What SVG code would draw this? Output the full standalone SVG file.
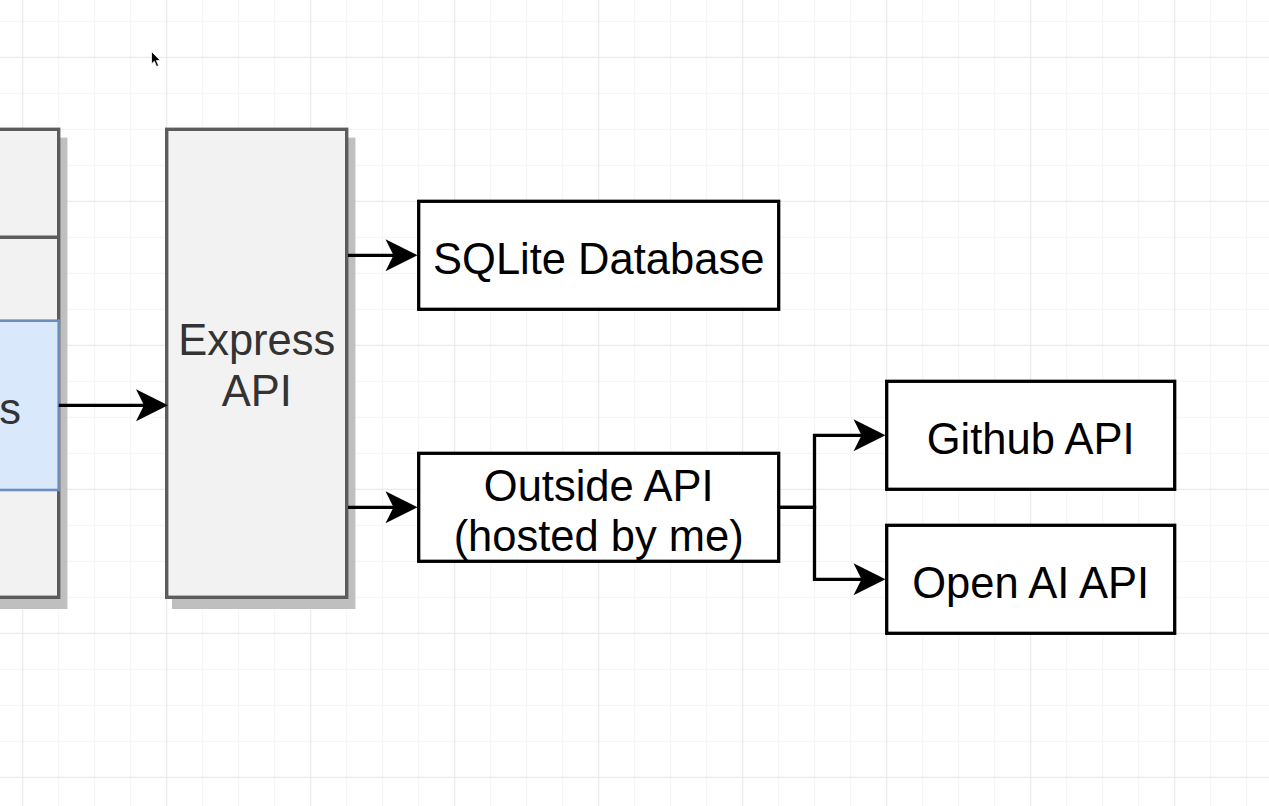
<svg xmlns="http://www.w3.org/2000/svg" width="1269" height="806" viewBox="0 0 1269 806">
<style>
.gray{fill:#f2f2f2;stroke:#5c5c5c;stroke-width:3.4}
.shadow{fill:#bfbfbf;stroke:#bfbfbf;stroke-width:3.4}
.box{fill:#ffffff;stroke:#000000;stroke-width:3.3}
.blue{fill:#dae8fc;stroke:#6c8ebf;stroke-width:2.6}
.t{font-family:"Liberation Sans",Arial,Helvetica,sans-serif;font-size:43.5px;text-anchor:middle;fill:#000000}
.tg{fill:#333333}
.edge{fill:none;stroke:#000000;stroke-width:3.3;marker-end:url(#arrow)}
</style>
<defs>
<pattern id="grid" patternUnits="userSpaceOnUse" x="22.2" y="56.8" width="144" height="144">
<rect x="0" y="0" width="144" height="144" fill="#ffffff"/>
<rect x="36" y="0" width="1" height="144" fill="#f4f4f4"/>
<rect x="72" y="0" width="1" height="144" fill="#f4f4f4"/>
<rect x="108" y="0" width="1" height="144" fill="#f4f4f4"/>
<rect x="0" y="36" width="144" height="1" fill="#f4f4f4"/>
<rect x="0" y="72" width="144" height="1" fill="#f4f4f4"/>
<rect x="0" y="108" width="144" height="1" fill="#f4f4f4"/>
<rect x="0" y="0" width="1" height="144" fill="#e6e6e6"/>
<rect x="0" y="0" width="144" height="1" fill="#e6e6e6"/>
</pattern>
<marker id="arrow" markerUnits="userSpaceOnUse" markerWidth="34" markerHeight="34" refX="10" refY="16" orient="auto" overflow="visible">
<path d="M0,0 L32,16 L0,32 L8,16 Z" fill="#000000"/>
</marker>
</defs>
<rect x="0" y="0" width="1269" height="806" fill="url(#grid)"/>

<g id="left-node">
<rect class="shadow" x="-20" y="139.3" width="85.7" height="468"/>
<line x1="-20" y1="247.3" x2="65.7" y2="247.3" stroke="#bfbfbf" stroke-width="3"/>
<rect class="gray" x="-27" y="129.3" width="85.7" height="468"/>
<line x1="-27" y1="237.3" x2="58.7" y2="237.3" stroke="#5c5c5c" stroke-width="3.4"/>
</g>

<g id="left-blue">
<rect class="blue" x="-27" y="320.7" width="85.7" height="169.3"/>
<text class="t tg" x="10" y="424">s</text>
</g>

<g id="express-api">
<rect class="shadow" x="173.7" y="139.3" width="180" height="468"/>
<rect class="gray" x="166.7" y="129.3" width="180" height="468"/>
<text class="t tg" x="256.7" y="355">Express</text>
<text class="t tg" x="256.7" y="406">API</text>
</g>

<g id="sqlite">
<rect class="box" x="418.7" y="201.3" width="360" height="108"/>
<text class="t" x="598.7" y="273.5">SQLite Database</text>
</g>

<g id="outside-api">
<rect class="box" x="418.7" y="453.3" width="360" height="108"/>
<text class="t" x="598.7" y="501">Outside API</text>
<text class="t" x="598.7" y="550.5">(hosted by me)</text>
</g>

<g id="github-api">
<rect class="box" x="886.7" y="381.3" width="288" height="108"/>
<text class="t" x="1030.7" y="453.5">Github API</text>
</g>

<g id="openai-api">
<rect class="box" x="886.7" y="525.3" width="288" height="108"/>
<text class="t" x="1030.7" y="597.7">Open AI API</text>
</g>

<g id="connectors">
<path class="edge" d="M58.7,405.3 H146"/>
<path class="edge" d="M348,255.3 H395.5"/>
<path class="edge" d="M348,507.3 H395.5"/>
<path class="edge" d="M780,507.3 H814.5 V435.3 H863.5"/>
<path class="edge" d="M780,507.3 H814.5 V579.3 H863.5"/>
</g>

<g id="cursor">
<path d="M151.5,51.5 L151.5,64 L154.3,61.3 L156.6,66.5 L158.6,65.6 L156.4,60.6 L160.2,60.4 Z" fill="#000000" stroke="#ffffff" stroke-width="0.8"/>
</g>
</svg>
